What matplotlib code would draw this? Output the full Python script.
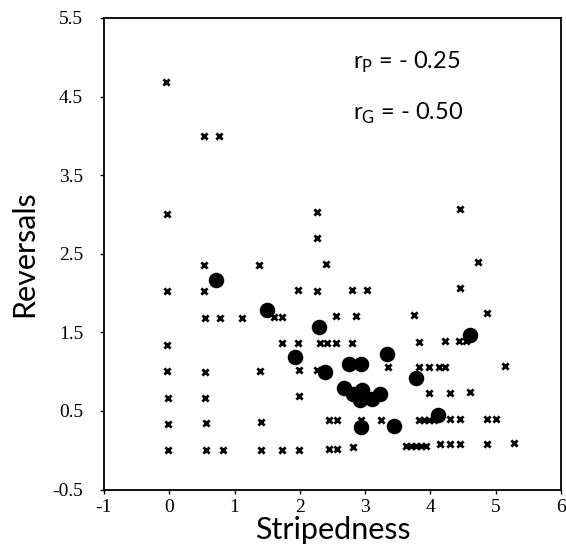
import matplotlib
matplotlib.use("Agg")
import matplotlib.pyplot as plt

# phenotypic values (crosses)
cross_x = [-0.05, -0.04, -0.04, -0.03, -0.03, -0.02, -0.02, -0.02,
           0.53, 0.53, 0.53, 0.55, 0.55, 0.55, 0.56, 0.57,
           0.76, 0.77, 0.82, 1.12,
           1.37, 1.39, 1.40, 1.40,
           1.60, 1.72, 1.72, 1.72,
           1.97, 1.97, 1.98, 1.98, 1.98,
           2.26, 2.26, 2.27, 2.31, 2.27,
           2.40, 2.42, 2.55, 2.55,
           2.45, 2.57, 2.45, 2.57,
           2.80, 2.80, 2.81, 2.86, 2.93, 3.03,
           3.24, 3.35,
           3.62, 3.70, 3.78, 3.86, 3.94,
           3.75, 3.82, 3.82, 3.82, 3.90, 3.98, 3.98, 3.98, 4.06,
           4.13, 4.22, 4.22, 4.15,
           4.30, 4.30, 4.30,
           4.45, 4.45, 4.44, 4.45, 4.45, 4.55, 4.60,
           4.73, 4.87, 4.87, 4.87, 5.01, 5.15, 5.28]
cross_y = [4.68, 3.00, 2.02, 1.34, 1.01, 0.67, 0.34, 0.00,
           4.00, 2.36, 2.02, 1.68, 1.00, 0.67, 0.35, 0.00,
           4.00, 1.68, 0.00, 1.68,
           2.36, 1.01, 0.36, 0.00,
           1.69, 1.69, 1.37, 0.00,
           2.04, 1.37, 1.02, 0.69, 0.00,
           3.03, 2.70, 2.03, 1.37, 1.02,
           2.37, 1.37, 1.71, 1.37,
           0.38, 0.38, 0.02, 0.02,
           2.04, 1.37, 0.04, 1.71, 0.39, 2.04,
           0.39, 1.06,
           0.05, 0.05, 0.05, 0.05, 0.05,
           1.72, 1.38, 1.06, 0.39, 0.39, 1.06, 0.73, 0.39, 0.39,
           1.06, 1.06, 1.39, 0.08,
           0.73, 0.40, 0.08,
           3.07, 2.07, 1.39, 0.40, 0.08, 1.39, 0.74,
           2.40, 1.74, 0.40, 0.08, 0.40, 1.07, 0.09]

# genetic (family mean) values (dots)
dot_x = [0.72, 1.50, 1.93, 2.30, 2.39, 2.76, 2.93, 3.33, 3.78, 4.61,
         4.12, 2.93, 3.44, 2.67, 2.82, 2.95, 2.92, 3.10, 3.23]
dot_y = [2.16, 1.79, 1.19, 1.57, 0.99, 1.10, 1.10, 1.22, 0.92, 1.47,
         0.45, 0.30, 0.31, 0.79, 0.72, 0.76, 0.64, 0.65, 0.72]

xticks = [-1, 0, 1, 2, 3, 4, 5, 6]
yticks = [-0.5, 0.5, 1.5, 2.5, 3.5, 4.5, 5.5]

label_font = dict(family="Lato", fontweight="normal", color="black")

plt.rcParams["mathtext.fontset"] = "custom"
plt.rcParams["mathtext.rm"] = "Lato"

fig = plt.figure(figsize=(5.66, 5.52), dpi=100)
ax = fig.add_axes([0.1837, 0.1132, 0.8074, 0.8542])

ax.scatter(cross_x, cross_y, marker="x", s=20, linewidths=2.0, color="black", zorder=2)
ax.scatter(dot_x, dot_y, marker="o", s=125, color="black", linewidths=0, zorder=3)

ax.set_xlim(-1, 6)
ax.set_ylim(-0.5, 5.5)
ax.set_xticks(xticks)
ax.set_xticklabels([str(t) for t in xticks], family="Liberation Serif", fontsize=14)
ax.set_yticks(yticks)
ax.set_yticklabels([f"{t:.1f}" for t in yticks], family="Liberation Serif", fontsize=14)
ax.tick_params(axis="y", direction="out", length=3, width=1, pad=12)
ax.tick_params(axis="x", direction="out", length=3, width=1, pad=4)
for s in ax.spines.values():
    s.set_linewidth(1.3)

ax.set_xlabel("Stripedness", fontsize=22, labelpad=0, **label_font)
ax.set_ylabel("Reversals", fontsize=22, labelpad=10, **label_font)

ax.text(2.82, 4.93, r"r$_{\mathrm{P}}$ = - 0.25", fontsize=17, va="center", **label_font)
ax.text(2.82, 4.29, r"r$_{\mathrm{G}}$ = - 0.50", fontsize=17, va="center", **label_font)

fig.savefig("out.png", dpi=100)
